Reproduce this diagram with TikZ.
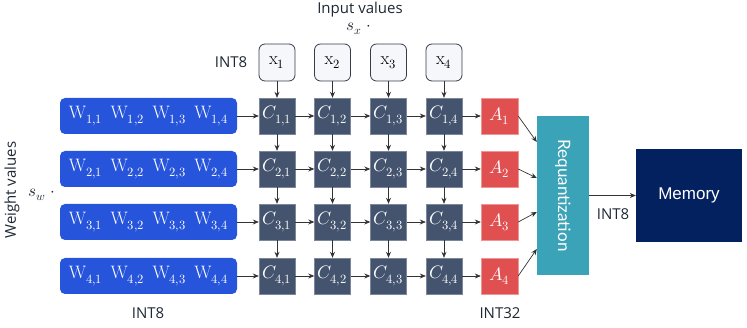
\documentclass[tikz,border=0pt]{standalone}
\usepackage{fontspec}
\usepackage{unicode-math}
\setmathfont{Latin Modern Math}
\setsansfont{Open Sans}
\newfontfamily\latofont{Lato}
\newfontfamily\arialfont{Liberation Sans}
\usetikzlibrary{arrows.meta,calc}
\definecolor{wblue}{RGB}{38,84,219}
\definecolor{cslate}{RGB}{68,84,110}
\definecolor{ared}{RGB}{224,80,80}
\definecolor{rteal}{RGB}{59,163,183}
\definecolor{mnavy}{RGB}{3,33,94}
\definecolor{txt}{RGB}{30,40,52}
\definecolor{xfill}{RGB}{245,247,250}
\tikzset{
  wbox/.style={fill=wblue,rounded corners=5pt,minimum width=177pt,minimum height=36pt,inner sep=0pt,text=white,font=\fontsize{18}{18}\selectfont},
  cbox/.style={fill=cslate,draw=cslate!70!white,line width=0.4pt,minimum width=36pt,minimum height=36pt,inner sep=0pt,text=white,font=\fontsize{18}{18}\selectfont},
  xbox/.style={fill=xfill,draw=txt!90,line width=0.8pt,rounded corners=6pt,minimum width=36pt,minimum height=37pt,inner sep=0pt,text=black,font=\fontsize{18}{18}\selectfont},
  abox/.style={fill=ared,draw=ared!60!white,line width=0.4pt,minimum width=37pt,minimum height=36pt,inner sep=0pt,text=white,font=\fontsize{18}{18}\selectfont},
  lbl/.style={text=txt,font=\sffamily\fontsize{15}{15}\selectfont,inner sep=0pt},
  arr/.style={draw=black!80,line width=0.7pt,-{Stealth[length=6pt,width=5pt]}}
}
\begin{document}
\begin{tikzpicture}[x=1pt,y=-1pt]
\useasboundingbox (0,0) rectangle (747,328);
% weight rows
\foreach \r/\yy in {1/116,2/169,3/222,4/276}{
  \node[wbox] (W\r) at (148.5,\yy) {$\mathrm{W}_{\r,1}\;\, \mathrm{W}_{\r,2}\;\, \mathrm{W}_{\r,3}\;\, \mathrm{W}_{\r,4}$};
  \foreach \c/\xx in {1/277,2/332.5,3/388.5,4/444}{
    \node[cbox] (C\r\c) at (\xx,\yy) {$C_{\r,\c}$};
  }
  \node[abox] (A\r) at (499.5,\yy) {$A_{\r}$};
}
\foreach \c/\xx in {1/277,2/332.5,3/388.5,4/444}{
  \node[xbox] (X\c) at (\xx,62.5) {$\mathrm{x}_{\c}$};
}
\node[fill=rteal,minimum width=52pt,minimum height=159pt,inner sep=0pt] (R) at (563,195.5) {};
\node[rotate=-90,text=white,font=\latofont\fontsize{17}{17}\selectfont] at (R.center) {Requantization};
\node[fill=mnavy,minimum width=106pt,minimum height=93pt,inner sep=0pt,text=white,font=\arialfont\fontsize{17}{17}\selectfont] (M) at (689,195.5) {Memory};
% connectors
\foreach \r in {1,2,3,4}{
  \draw[arr] (W\r) -- (C\r1);
  \draw[arr] (C\r1) -- (C\r2);
  \draw[arr] (C\r2) -- (C\r3);
  \draw[arr] (C\r3) -- (C\r4);
  \draw[arr] (C\r4) -- (A\r);
}
\foreach \c in {1,2,3,4}{
  \draw[arr] (X\c) -- (C1\c);
  \draw[arr] (C1\c) -- (C2\c);
  \draw[arr] (C2\c) -- (C3\c);
  \draw[arr] (C3\c) -- (C4\c);
}
\coordinate (R1) at ($(R.west)+(0,-53.5)$);
\coordinate (R2) at ($(R.west)+(0,-17.5)$);
\coordinate (R3) at ($(R.west)+(0,16.5)$);
\coordinate (R4) at ($(R.west)+(0,53.5)$);
\foreach \r in {1,2,3,4}{
  \draw[arr] (A\r.east) -- (R\r);
}
\draw[arr] (R) -- (M);
% labels
\node[lbl] (inlbl) at (360,10) {Input values};
\node[text=txt,inner sep=0pt,font=\fontsize{17}{17}\selectfont] (sx) at (359,29) {$s_x\;\cdot$};
\node[lbl] (int8a) at (231,62) {INT8};
\node[lbl,rotate=90] (wlbl) at (12,190) {Weight values};
\node[text=txt,inner sep=0pt,font=\fontsize{17}{17}\selectfont] (sw) at (42,195) {$s_w\;\cdot$};
\node[lbl] (int8b) at (148,313) {INT8};
\node[lbl] (int32) at (500,313) {INT32};
\node[lbl] (int8c) at (613,214) {INT8};
\end{tikzpicture}
\end{document}
